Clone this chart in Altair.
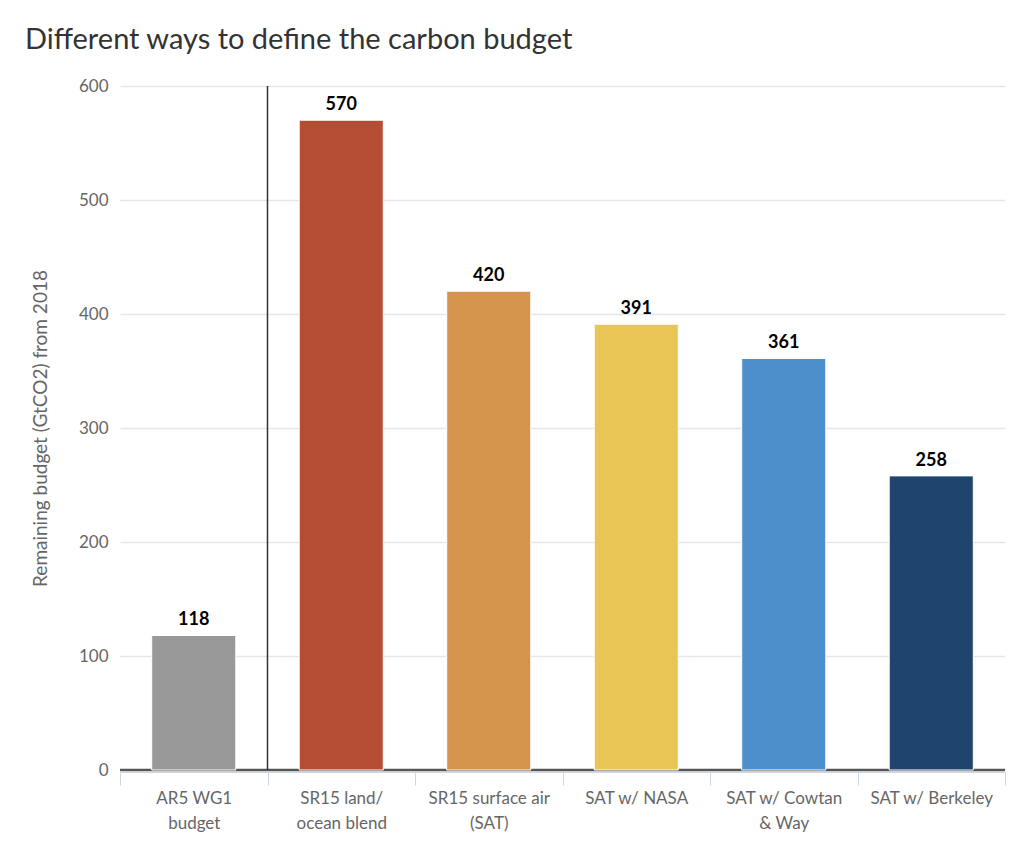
import altair as alt
import pandas as pd

categories = ["AR5 WG1\nbudget", "SR15 land/\nocean blend", "SR15 surface air\n(SAT)",
              "SAT w/ NASA", "SAT w/ Cowtan\n& Way", "SAT w/ Berkeley"]
values = [118, 570, 420, 391, 361, 258]
colors = ["#999999", "#B54C34", "#D4944B", "#E8C554", "#4C8FCB", "#1F456F"]
divider_after = ["AR5 WG1\nbudget"]

df = pd.DataFrame({"cat": categories, "val": values, "color": colors})
FONT = "Lato"

x_enc = alt.X("cat:N", sort=categories,
              scale=alt.Scale(paddingInner=0, paddingOuter=0),
              axis=alt.Axis(title=None, labelAngle=0, labelExpr="split(datum.label, '\\n')",
                            labelFont=FONT, labelFontSize=17, labelColor="#666666",
                            labelLineHeight=25, labelPadding=5, labelBaseline="top",
                            tickBand="extent", tickColor="#ccd6eb", tickSize=13, tickWidth=1,
                            domainColor="#ccd6eb", domainWidth=1, offset=2, grid=False))

y_enc = alt.Y("val:Q", scale=alt.Scale(domain=[0, 600], nice=False),
              axis=alt.Axis(title="Remaining budget (GtCO2) from 2018", values=[0, 100, 200, 300, 400, 500, 600],
                            titleFont=FONT, titleFontSize=19, titleFontWeight="normal", titleColor="#666666",
                            titleX=-80, titleBaseline="middle",
                            labelFont=FONT, labelFontSize=17, labelColor="#666666", labelPadding=12,
                            ticks=False, domain=False, gridColor="#e6e6e6", gridWidth=1.5))

zero = alt.Chart(pd.DataFrame({"z": [0]})).mark_rule(color="#555555", strokeWidth=2.5).encode(y=alt.Y("z:Q", scale=alt.Scale(domain=[0, 600], nice=False)))

divider = alt.Chart(pd.DataFrame({"cat": divider_after})).mark_rule(color="#333333", strokeWidth=1.5).encode(
    x=alt.X("cat:N", sort=categories, bandPosition=1), y=alt.value(0), y2=alt.value(684))

bars = alt.Chart(df).mark_bar(width=alt.RelativeBandSize(0.57), stroke="white", strokeWidth=1).encode(
    x=x_enc, y=y_enc, color=alt.Color("color:N", scale=None))

labels = alt.Chart(df).mark_text(baseline="bottom", dy=-6, font=FONT, fontSize=18, fontWeight="bold", color="#000000").encode(
    x=alt.X("cat:N", sort=categories), y="val:Q", text="val:Q")

chart = alt.layer(zero, bars, divider, labels).properties(
    width=885, height=684,
    autosize=alt.AutoSizeParams(type="none"),
    padding={"left": 112, "top": 78, "right": 10, "bottom": 70},
    title=alt.TitleParams("Different ways to define the carbon budget", anchor="start", frame="group",
                          dx=-95, offset=22,
                          font=FONT, fontSize=29, fontWeight="normal", color="#333333"),
).configure_view(stroke=None)

chart.save("out.html", embed_options={"renderer": "svg", "actions": False})
